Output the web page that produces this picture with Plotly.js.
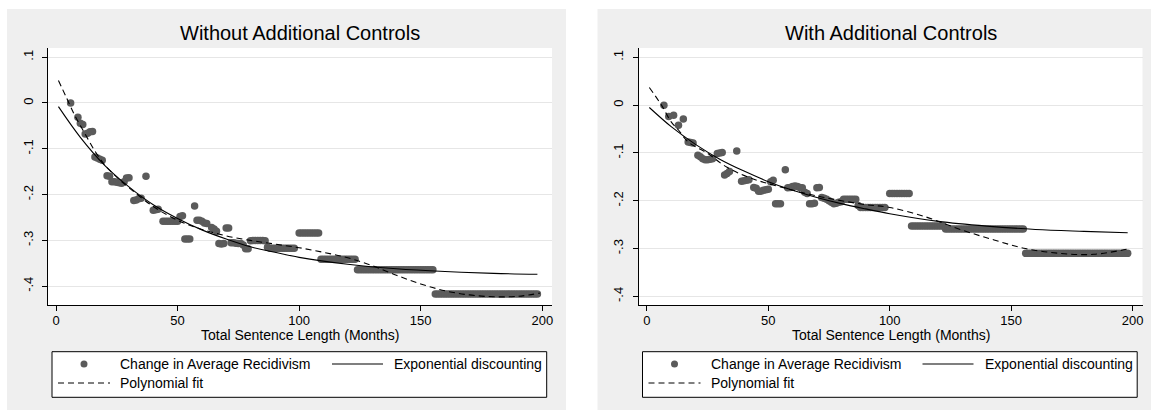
<!DOCTYPE html>
<html>
<head>
<meta charset="utf-8">
<script src="https://cdn.plot.ly/plotly-3.0.1.min.js"></script>
<style>html,body{margin:0;padding:0;background:#fff;}#chart{width:1151px;height:412px;}</style>
</head>
<body>
<div id="chart"></div>
<script>
// ---------- DATA ----------
var panelTitles = ["Without Additional Controls", "With Additional Controls"];
var xAxisTitle = "Total Sentence Length (Months)";
var legendLabels = ["Change in Average Recidivism", "Exponential discounting", "Polynomial fit"];
var xTickVals = [0, 50, 100, 150, 200];
var yTickVals = [0.1, 0, -0.1, -0.2, -0.3, -0.4];
var yTickText = [".1", "0", "-.1", "-.2", "-.3", "-.4"];

// Left panel: Without Additional Controls
var leftX = [6,9,10,11,12,13,14,15,16,17,18,19,21,22,23,24,25,26,27,28,29,30,32,33,34,35,37,40,41,42,
  44,45,46,47,48,49,50,51,52,53,54,55,57,58,59,60,61,62,64,65,66,67,68,69,70,71,
  72,73,74,75,76,77,78,79,80,81,82,83,84,85,86,
  87,88,89,90,91,92,93,94,95,96,97,98,
  100,101,102,103,104,105,106,107,108,
  109,110,111,112,113,114,115,116,117,118,119,120,121,122,123,
  124,125,126,127,128,129,130,131,132,133,134,135,136,137,138,139,140,141,142,143,144,145,146,147,148,149,150,151,152,153,154,155,
  156,157,158,159,160,161,162,163,164,165,166,167,168,169,170,171,172,173,174,175,176,177,178,179,180,181,182,183,184,185,186,187,188,189,190,191,192,193,194,195,196,197,198];
var leftY = [0.000,-0.031,-0.044,-0.047,-0.068,-0.066,-0.063,-0.062,-0.118,-0.120,-0.123,-0.125,-0.159,-0.160,-0.172,-0.172,-0.173,-0.174,-0.175,-0.172,-0.164,-0.163,-0.213,-0.212,-0.209,-0.208,-0.160,-0.234,-0.233,-0.232,
  -0.258,-0.258,-0.258,-0.258,-0.258,-0.258,-0.258,-0.248,-0.246,-0.297,-0.297,-0.297,-0.225,-0.256,-0.256,-0.258,-0.262,-0.263,-0.272,-0.275,-0.280,-0.307,-0.308,-0.307,-0.273,-0.273,
  -0.305,-0.305,-0.306,-0.307,-0.307,-0.310,-0.318,-0.318,-0.301,-0.300,-0.300,-0.300,-0.300,-0.300,-0.301,
  -0.315,-0.317,-0.317,-0.317,-0.317,-0.317,-0.317,-0.317,-0.317,-0.317,-0.317,-0.317,
  -0.284,-0.284,-0.284,-0.284,-0.284,-0.284,-0.284,-0.284,-0.284,
  -0.341,-0.341,-0.341,-0.341,-0.341,-0.341,-0.341,-0.341,-0.341,-0.341,-0.341,-0.341,-0.341,-0.341,-0.341,
  -0.364,-0.364,-0.364,-0.364,-0.364,-0.364,-0.364,-0.364,-0.364,-0.364,-0.364,-0.364,-0.364,-0.364,-0.364,-0.364,-0.364,-0.364,-0.364,-0.364,-0.364,-0.364,-0.364,-0.364,-0.364,-0.364,-0.364,-0.364,-0.364,-0.364,-0.364,-0.364,
  -0.417,-0.417,-0.417,-0.417,-0.417,-0.417,-0.417,-0.417,-0.417,-0.417,-0.417,-0.417,-0.417,-0.417,-0.417,-0.417,-0.417,-0.417,-0.417,-0.417,-0.417,-0.417,-0.417,-0.417,-0.417,-0.417,-0.417,-0.417,-0.417,-0.417,-0.417,-0.417,-0.417,-0.417,-0.417,-0.417,-0.417,-0.417,-0.417,-0.417,-0.417,-0.417,-0.417];
var leftExpX = [1,10,20,30,40,50,60,70,80,90,100,120,140,160,180,198];
var leftExpY = [-0.008,-0.075,-0.136,-0.183,-0.222,-0.252,-0.277,-0.297,-0.314,-0.326,-0.337,-0.352,-0.362,-0.368,-0.372,-0.374];
var leftPolyX = [1,4,8,12,16,20,25,30,40,50,60,70,80,90,100,110,120,130,140,150,160,170,180,190,199];
var leftPolyY = [0.049,0.015,-0.030,-0.068,-0.105,-0.135,-0.162,-0.185,-0.226,-0.256,-0.276,-0.290,-0.300,-0.308,-0.316,-0.326,-0.338,-0.355,-0.376,-0.395,-0.410,-0.419,-0.423,-0.422,-0.415];

// Right panel: With Additional Controls
var rightX = [7,9,11,13,15,17,18,19,21,22,23,24,25,26,27,29,30,31,32,33,34,37,39,40,41,42,
  44,45,46,47,48,49,50,51,52,53,54,55,57,58,59,60,61,62,63,64,65,66,67,68,69,70,71,
  72,73,74,75,76,77,78,79,80,81,82,83,84,85,86,
  87,88,89,90,91,92,93,94,95,96,97,98,
  100,101,102,103,104,105,106,107,108,
  109,110,111,112,113,114,115,116,117,118,119,120,121,122,
  123,124,125,126,127,128,129,130,131,132,133,134,135,136,137,138,139,140,141,142,143,144,145,146,147,148,149,150,151,152,153,154,155,
  156,157,158,159,160,161,162,163,164,165,166,167,168,169,170,171,172,173,174,175,176,177,178,179,180,181,182,183,184,185,186,187,188,189,190,191,192,193,194,195,196,197,198];
var rightY = [0.000,-0.024,-0.021,-0.042,-0.029,-0.077,-0.078,-0.079,-0.105,-0.108,-0.112,-0.114,-0.114,-0.113,-0.112,-0.101,-0.100,-0.099,-0.146,-0.143,-0.139,-0.096,-0.159,-0.158,-0.157,-0.156,
  -0.172,-0.174,-0.180,-0.180,-0.178,-0.177,-0.176,-0.160,-0.157,-0.206,-0.206,-0.206,-0.135,-0.173,-0.172,-0.170,-0.169,-0.170,-0.172,-0.173,-0.182,-0.185,-0.206,-0.206,-0.205,-0.173,-0.172,
  -0.193,-0.195,-0.197,-0.200,-0.203,-0.206,-0.205,-0.203,-0.202,-0.197,-0.197,-0.197,-0.197,-0.197,-0.197,
  -0.210,-0.214,-0.214,-0.214,-0.214,-0.214,-0.214,-0.214,-0.214,-0.214,-0.214,-0.214,
  -0.185,-0.185,-0.185,-0.185,-0.185,-0.185,-0.185,-0.185,-0.185,
  -0.253,-0.253,-0.253,-0.253,-0.253,-0.253,-0.253,-0.253,-0.253,-0.253,-0.253,-0.253,-0.253,-0.253,
  -0.259,-0.259,-0.259,-0.259,-0.259,-0.259,-0.259,-0.259,-0.259,-0.259,-0.259,-0.259,-0.259,-0.259,-0.259,-0.259,-0.259,-0.259,-0.259,-0.259,-0.259,-0.259,-0.259,-0.259,-0.259,-0.259,-0.259,-0.259,-0.259,-0.259,-0.259,-0.259,-0.259,
  -0.310,-0.310,-0.310,-0.310,-0.310,-0.310,-0.310,-0.310,-0.310,-0.310,-0.310,-0.310,-0.310,-0.310,-0.310,-0.310,-0.310,-0.310,-0.310,-0.310,-0.310,-0.310,-0.310,-0.310,-0.310,-0.310,-0.310,-0.310,-0.310,-0.310,-0.310,-0.310,-0.310,-0.310,-0.310,-0.310,-0.310,-0.310,-0.310,-0.310,-0.310,-0.310,-0.310];
var rightExpX = [1,10,20,30,40,50,60,70,80,90,100,120,140,160,180,198];
var rightExpY = [-0.005,-0.045,-0.082,-0.113,-0.138,-0.160,-0.178,-0.193,-0.206,-0.217,-0.227,-0.243,-0.253,-0.260,-0.264,-0.267];
var rightPolyX = [1,6,10,13,17,25,33,43,55,72,90,100,115,129,143,156,170,184,199];
var rightPolyY = [0.037,0.000,-0.035,-0.052,-0.077,-0.101,-0.130,-0.153,-0.171,-0.192,-0.208,-0.214,-0.234,-0.260,-0.282,-0.300,-0.310,-0.312,-0.300];

// ---------- LAYOUT (pixel geometry) ----------
var W = 1151, H = 412;
function PX(p){ return p / W; }
function PY(p){ return 1 - p / H; }
var FONT = "Liberation Sans, Arial, Helvetica, sans-serif";
var markerColor = "#5b5b5b";
var panelGray = "#efefef";

var panels = [
  {off: 0,     xr: [-3.3, 204.0], yr: [-0.441, 0.120], xs: "x",  ys: "y",  X: leftX,  Y: leftY,  eX: leftExpX,  eY: leftExpY,  pX: leftPolyX,  pY: leftPolyY},
  {off: 590.5, xr: [-3.46, 204.1], yr: [-0.418, 0.1195], xs: "x2", ys: "y2", X: rightX, Y: rightY, eX: rightExpX, eY: rightExpY, pX: rightPolyX, pY: rightPolyY}
];

var traces = [];
panels.forEach(function(p){
  traces.push({type: "scatter", mode: "markers", x: p.X, y: p.Y, xaxis: p.xs, yaxis: p.ys,
    name: legendLabels[0], marker: {color: markerColor, size: 7.5, line: {width: 0}}, hoverinfo: "x+y"});
  traces.push({type: "scatter", mode: "lines", x: p.eX, y: p.eY, xaxis: p.xs, yaxis: p.ys,
    name: legendLabels[1], line: {color: "#000", width: 1.1, shape: "spline", smoothing: 1}});
  traces.push({type: "scatter", mode: "lines", x: p.pX, y: p.pY, xaxis: p.xs, yaxis: p.ys,
    name: legendLabels[2], line: {color: "#000", width: 1.1, dash: "6px,4px", shape: "spline", smoothing: 1}});
});

function axX(p, domain, anchor){
  return {domain: domain, range: p.xr, anchor: anchor, tickvals: xTickVals, ticktext: xTickVals.map(String),
    ticks: "outside", ticklen: 5, tickwidth: 1, tickcolor: "#000", showline: true, linecolor: "#000", linewidth: 1,
    ticklabelstandoff: -2,
    showgrid: false, zeroline: false, tickfont: {family: FONT, size: 13, color: "#000"}, fixedrange: true};
}
function axY(p, anchor){
  return {domain: [PY(305), PY(48)], range: p.yr, anchor: anchor, tickvals: yTickVals, ticktext: yTickText,
    tickangle: -90, ticks: "outside", ticklen: 5, tickwidth: 1, tickcolor: "#000", showline: true, linecolor: "#000",
    ticklabelstandoff: 4,
    linewidth: 1, showgrid: true, gridcolor: "#e6e6e6", gridwidth: 1, zeroline: false,
    tickfont: {family: FONT, size: 13, color: "#000"}, fixedrange: true};
}

var shapes = [], annotations = [];
panels.forEach(function(p, i){
  var o = p.off;
  shapes.push({type: "rect", xref: "paper", yref: "paper", layer: "below", x0: PX(7 + o), x1: PX(566 + o), y0: PY(410), y1: PY(9),
    fillcolor: panelGray, line: {width: 0}});
  shapes.push({type: "rect", xref: "paper", yref: "paper", layer: "below", x0: PX(48 + o), x1: PX(552 + o), y0: PY(305), y1: PY(48),
    fillcolor: "#ffffff", line: {width: 0}});
  // legend box
  shapes.push({type: "rect", xref: "paper", yref: "paper", layer: "above", x0: PX(52 + o), x1: PX(546.7 + o), y0: PY(397.3), y1: PY(351.7),
    fillcolor: "#ffffff", line: {color: "#000", width: 1}});
  // legend marker symbol
  shapes.push({type: "circle", xref: "paper", yref: "paper", layer: "above", x0: PX(80.5 + o), x1: PX(87.5 + o), y0: PY(367.5), y1: PY(360.5),
    fillcolor: markerColor, line: {width: 0}});
  // legend solid line
  shapes.push({type: "line", xref: "paper", yref: "paper", layer: "above", x0: PX(332 + o), x1: PX(383 + o), y0: PY(364), y1: PY(364),
    line: {color: "#000", width: 1.1}});
  // legend dashed line
  shapes.push({type: "line", xref: "paper", yref: "paper", layer: "above", x0: PX(58 + o), x1: PX(110 + o), y0: PY(383), y1: PY(383),
    line: {color: "#000", width: 1.1, dash: "6px,4px"}});

  var cx = (48 + 552) / 2 + o;
  annotations.push({xref: "paper", yref: "paper", x: PX(cx), y: PY(33), text: panelTitles[i], showarrow: false,
    xanchor: "center", yanchor: "middle", font: {family: FONT, size: 20, color: "#000"}});
  annotations.push({xref: "paper", yref: "paper", x: PX(cx), y: PY(335), text: xAxisTitle, showarrow: false,
    xanchor: "center", yanchor: "middle", font: {family: FONT, size: 14, color: "#000"}});
  annotations.push({xref: "paper", yref: "paper", x: PX(118 + o), y: PY(364), text: legendLabels[0], showarrow: false,
    xanchor: "left", yanchor: "middle", font: {family: FONT, size: 14, color: "#000"}});
  annotations.push({xref: "paper", yref: "paper", x: PX(392 + o), y: PY(364), text: legendLabels[1], showarrow: false,
    xanchor: "left", yanchor: "middle", font: {family: FONT, size: 14, color: "#000"}});
  annotations.push({xref: "paper", yref: "paper", x: PX(118 + o), y: PY(383), text: legendLabels[2], showarrow: false,
    xanchor: "left", yanchor: "middle", font: {family: FONT, size: 14, color: "#000"}});
});

var layout = {
  width: W, height: H, margin: {l: 0, r: 0, t: 0, b: 0, pad: 0},
  paper_bgcolor: "#ffffff", plot_bgcolor: "rgba(0,0,0,0)", showlegend: false,
  font: {family: FONT, color: "#000"},
  xaxis: axX(panels[0], [PX(48), PX(552)], "y"),
  yaxis: axY(panels[0], "x"),
  xaxis2: axX(panels[1], [PX(48 + 590.5), PX(552 + 590.5)], "y2"),
  yaxis2: axY(panels[1], "x2"),
  shapes: shapes, annotations: annotations
};

Plotly.newPlot("chart", traces, layout, {displayModeBar: false, staticPlot: true});
</script>
</body>
</html>
